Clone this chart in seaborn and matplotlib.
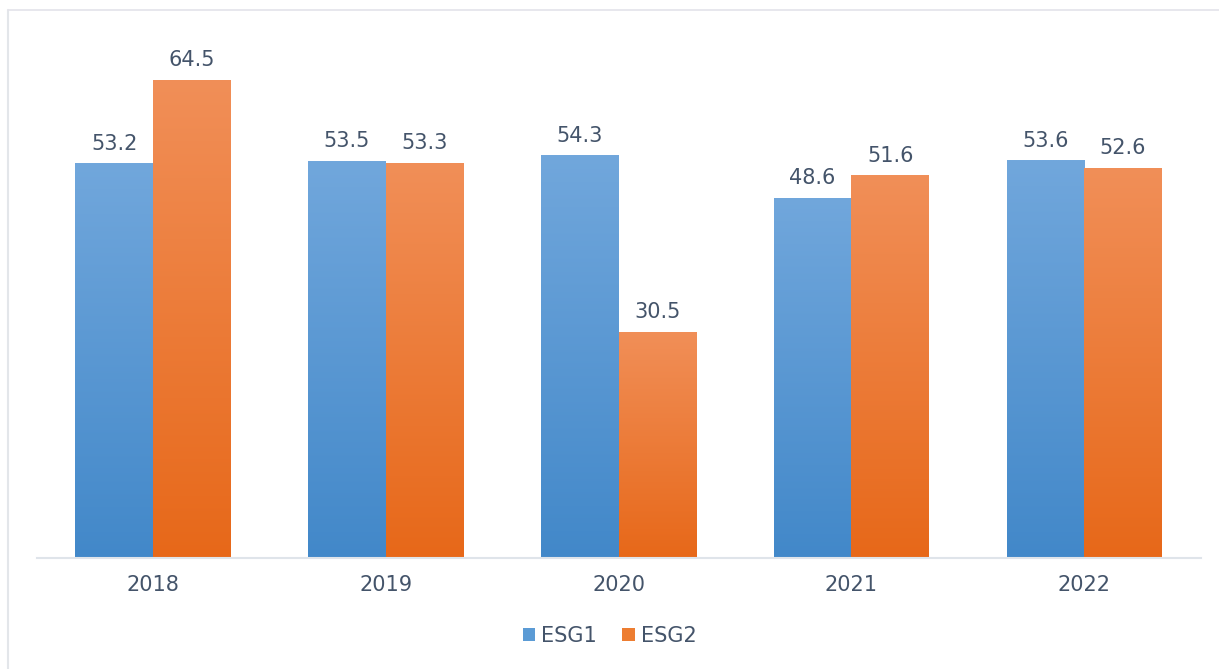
import numpy as np
import pandas as pd
import matplotlib
matplotlib.use("Agg")
import matplotlib.pyplot as plt
import seaborn as sns
from matplotlib.colors import LinearSegmentedColormap
from matplotlib.lines import Line2D
from matplotlib.patches import Patch

# data
years = ["2018", "2019", "2020", "2021", "2022"]
esg1 = [53.2, 53.5, 54.3, 48.6, 53.6]
esg2 = [64.5, 53.3, 30.5, 51.6, 52.6]
series = ["ESG1", "ESG2"]

df = pd.DataFrame({
    "year": years * 2,
    "value": esg1 + esg2,
    "series": ["ESG1"] * len(years) + ["ESG2"] * len(years),
})

# gradient colours (top, bottom) + legend swatch colour
grad = {
    "ESG1": ("#71a7dc", "#4288c9"),
    "ESG2": ("#f18f58", "#e76819"),
}
swatch = {"ESG1": "#5b9bd5", "ESG2": "#ed7d31"}
text_col = "#44546a"

sns.set_theme(style="white")
plt.rcParams["font.family"] = ["DejaVu Sans"]

fig = plt.figure(figsize=(12.19, 6.69), dpi=100)
ax = fig.add_axes([0.030, 0.166, 0.955, 0.776])

sns.barplot(data=df, x="year", y="value", hue="series", order=years,
            hue_order=series, palette=[grad[s][1] for s in series],
            width=0.667, ax=ax, legend=False, errorbar=None)

ax.set_xlim(-0.5, 4.5)
ax.set_ylim(0, 70)

# replace flat fills with vertical gradients
for cont, s in zip(ax.containers, series):
    cmap = LinearSegmentedColormap.from_list(s, [grad[s][1], grad[s][0]])
    for bar in cont:
        x0, y0 = bar.get_x(), bar.get_y()
        w, h = bar.get_width(), bar.get_height()
        bar.set_facecolor("none")
        bar.set_edgecolor("none")
        img = ax.imshow(np.linspace(0, 1, 256).reshape(-1, 1), cmap=cmap,
                        origin="lower", aspect="auto",
                        extent=[x0, x0 + w, y0, y0 + h], zorder=2)
        img.set_clip_path(bar)
    ax.bar_label(cont, fmt="%.1f", padding=7, fontsize=15, color=text_col)

ax.set_xlim(-0.5, 4.5)
ax.set_ylim(0, 70)
ax.set_xlabel("")
ax.set_ylabel("")
ax.set_yticks([])
ax.tick_params(axis="x", length=0, pad=12, labelsize=15, labelcolor=text_col)
for side in ["top", "right", "left"]:
    ax.spines[side].set_visible(False)
ax.spines["bottom"].set_color("#dfe4ea")
ax.spines["bottom"].set_linewidth(1.5)

handles = [Patch(facecolor=swatch[s], edgecolor="none") for s in series]
fig.legend(handles, series, loc="center", bbox_to_anchor=(0.5, 0.05), ncol=2,
           frameon=False, fontsize=15, handlelength=0.6, handleheight=0.6,
           handletextpad=0.3, columnspacing=1.2, labelcolor=text_col)

# light frame on the left and top edges
fig.lines.append(Line2D([0.0066, 0.0066], [0.0, 0.985], transform=fig.transFigure,
                        color="#e3e6ea", linewidth=1.5))
fig.lines.append(Line2D([0.0066, 1.0], [0.985, 0.985], transform=fig.transFigure,
                        color="#e3e3ea", linewidth=1.2))

fig.savefig("out.png", dpi=100)
